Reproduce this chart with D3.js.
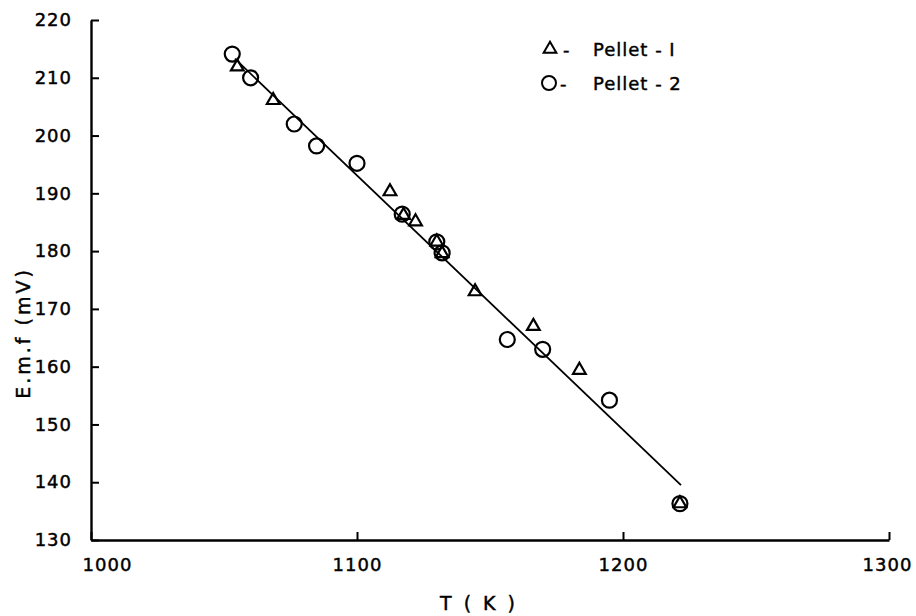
<!DOCTYPE html>
<html>
<head>
<meta charset="utf-8">
<script src="https://cdn.jsdelivr.net/npm/d3@7"></script>
<style>
  body { margin: 0; background: #fff; }
  svg text { font-family: "DejaVu Sans", sans-serif; fill: #000; stroke: #000; stroke-width: 0.45px; }
</style>
</head>
<body>
<svg id="chart" width="916" height="616"></svg>
<script>
// Pellet-1 (triangles)
var pellet1T = [1055, 1068.5, 1112.4, 1117.5, 1122, 1130, 1132, 1144.4, 1166.3, 1183.6, 1221.4];
var pellet1E = [211.9, 206.1, 190.3, 186.2, 185.1, 181.6, 179.6, 173.0, 167.0, 159.4, 136.3];
// Pellet-2 (circles)
var pellet2T = [1053.1, 1060, 1076.4, 1084.8, 1100, 1117, 1130, 1132, 1156.5, 1169.8, 1194.9, 1221.4];
var pellet2E = [214.1, 210.0, 202.0, 198.2, 195.2, 186.4, 181.6, 179.7, 164.7, 163.0, 154.2, 136.3];
// fitted line end points
var fitT = [1054.1, 1221.8];
var fitE = [213.3, 139.5];
var xTicks = [1000, 1100, 1200, 1300];
var yTicks = [130, 140, 150, 160, 170, 180, 190, 200, 210, 220];

var svg = d3.select('#chart');

var x = d3.scaleLinear().domain([1000, 1300]).range([91, 889]);
var y = d3.scaleLinear().domain([130, 220]).range([540, 20]);

/* axes */
var yAxis = svg.append('g')
    .attr('transform', 'translate(91,0)')
    .call(d3.axisLeft(y).tickValues(yTicks).tickFormat(d3.format('d'))
        .tickSizeInner(-8).tickSizeOuter(0).tickPadding(19));
var xAxis = svg.append('g')
    .attr('transform', 'translate(0,540)')
    .call(d3.axisBottom(x).tickValues(xTicks).tickFormat(d3.format('d'))
        .tickSizeInner(-8).tickSizeOuter(0).tickPadding(18));

[xAxis, yAxis].forEach(function(ax) {
    ax.select('.domain').attr('stroke', '#000').attr('stroke-width', 2.4);
    ax.selectAll('.tick line').attr('stroke', '#000').attr('stroke-width', 2);
    ax.selectAll('.tick text')
        .style('font-size', '18px')
        .style('letter-spacing', '1px')
        .style('font-family', '"DejaVu Sans", sans-serif');
});
xAxis.selectAll('.tick text').filter(function(d) { return d === 1000; }).attr('dx', 16);
xAxis.selectAll('.tick text').filter(function(d) { return d === 1300; }).attr('dx', -2);

/* axis titles */
svg.append('text')
    .attr('x', 479).attr('y', 610)
    .attr('text-anchor', 'middle')
    .style('font-size', '19px')
    .style('letter-spacing', '3px')
    .text('T ( K )');

svg.append('text')
    .attr('transform', 'translate(30,333) rotate(-90)')
    .attr('text-anchor', 'middle')
    .style('font-size', '19px')
    .style('letter-spacing', '3px')
    .text('E.m.f (mV)');

/* fit line */
var fit = fitT.map(function(t, i) { return { t: t, e: fitE[i] }; });
svg.append('path')
    .datum(fit)
    .attr('fill', 'none')
    .attr('stroke', '#000')
    .attr('stroke-width', 1.8)
    .attr('d', d3.line().x(function(d) { return x(d.t); }).y(function(d) { return y(d.e); }));

/* points */
var tri = d3.symbol().type(d3.symbolTriangle).size(70);
var p1 = pellet1T.map(function(t, i) { return { t: t, e: pellet1E[i] }; });
var p2 = pellet2T.map(function(t, i) { return { t: t, e: pellet2E[i] }; });

svg.selectAll('circle.p2')
    .data(p2)
    .enter()
    .append('circle')
    .attr('class', 'p2')
    .attr('cx', function(d) { return x(d.t); })
    .attr('cy', function(d) { return y(d.e); })
    .attr('r', 7.5)
    .attr('fill', 'none')
    .attr('stroke', '#000')
    .attr('stroke-width', 2.2);

svg.selectAll('path.p1')
    .data(p1)
    .enter()
    .append('path')
    .attr('class', 'p1')
    .attr('transform', function(d) { return 'translate(' + x(d.t) + ',' + y(d.e) + ')'; })
    .attr('d', tri)
    .attr('fill', 'none')
    .attr('stroke', '#000')
    .attr('stroke-width', 2.2);

/* legend */
var legend = svg.append('g');
legend.append('path')
    .attr('transform', 'translate(550,49)')
    .attr('d', tri)
    .attr('fill', 'none')
    .attr('stroke', '#000')
    .attr('stroke-width', 2);
legend.append('text')
    .attr('x', 563).attr('y', 56)
    .style('font-size', '18px')
    .text('-');
legend.append('text')
    .attr('x', 593).attr('y', 56)
    .style('font-size', '18px')
    .style('letter-spacing', '1px')
    .text('Pellet - I');
legend.append('circle')
    .attr('cx', 549).attr('cy', 83)
    .attr('r', 7)
    .attr('fill', 'none')
    .attr('stroke', '#000')
    .attr('stroke-width', 2);
legend.append('text')
    .attr('x', 560).attr('y', 90)
    .style('font-size', '18px')
    .text('-');
legend.append('text')
    .attr('x', 593).attr('y', 90)
    .style('font-size', '18px')
    .style('letter-spacing', '1px')
    .text('Pellet - 2');
</script>
</body>
</html>
